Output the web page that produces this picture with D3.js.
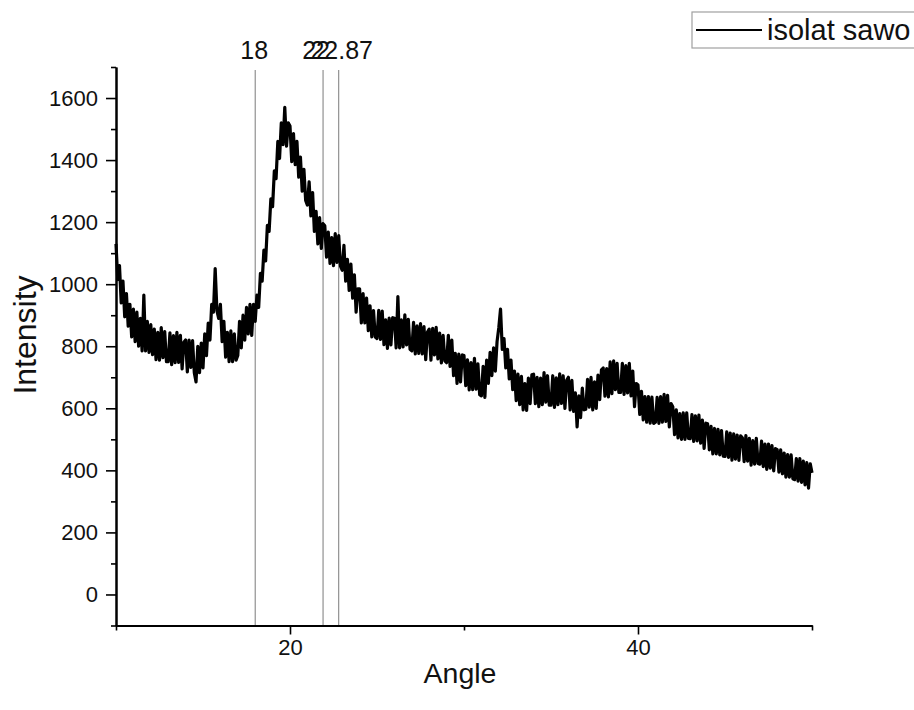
<!DOCTYPE html>
<html>
<head>
<meta charset="utf-8">
<script src="https://cdn.jsdelivr.net/npm/d3@7"></script>
<style>
  html, body { margin: 0; padding: 0; background: #fff; }
  svg { display: block; }
  text { font-family: "Liberation Sans", Arial, sans-serif; fill: #111; }
</style>
</head>
<body>
<svg id="chart" width="914" height="710"></svg>
<script>
// ---- Data ----
const angleStart = 10.0;
const angleStep = 0.1;
const intensity = [
  1130,1015,1060,940,1010,895,970,865,935,830,
  920,815,910,800,890,785,965,785,880,780,
  870,773,855,757,845,755,860,763,847,750,
  750,843,741,834,747,845,748,835,727,813,
  820,717,820,732,818,715,685,800,715,810,
  730,840,770,875,820,935,910,1050,915,890,
  935,815,880,765,845,750,850,750,840,755,
  770,880,795,900,820,925,840,935,835,935,
  880,965,925,1035,1010,1110,1075,1190,1170,1275,
  1250,1365,1340,1460,1405,1520,1450,1570,1445,1520,
  1510,1395,1485,1385,1460,1345,1410,1300,1370,1270,
  1255,1330,1220,1295,1170,1235,1130,1215,1115,1195,
  1188,1087,1168,1067,1150,1060,1163,1070,1157,1058,
  1045,1125,1010,1080,980,1065,955,1030,910,985,
  985,875,970,875,955,850,930,830,915,830,
  825,916,822,913,805,885,793,891,804,892,
  890,795,960,795,885,798,901,804,887,790,
  785,877,775,866,777,873,775,863,757,846,
  855,755,858,772,861,759,842,746,835,753,
  747,835,735,820,705,777,680,775,685,772,
  770,673,756,659,747,660,761,662,743,644,
  640,735,635,755,680,780,705,795,720,815,
  860,920,790,825,730,790,695,755,660,720,
  625,710,612,703,595,680,593,697,615,708,
  710,615,700,605,697,612,715,620,705,610,
  610,705,603,698,612,711,616,705,600,690,
  700,595,690,590,650,540,640,570,665,595,
  597,693,604,700,595,685,600,707,628,724,
  730,639,728,637,750,647,753,660,745,651,
  651,745,645,738,650,745,640,720,605,680,
  675,580,655,563,638,555,638,552,636,551,
  555,635,551,638,555,645,558,642,540,615,
  605,515,595,505,583,500,585,500,585,503,
  502,580,493,576,495,578,488,562,471,552,
  550,466,542,453,535,453,532,450,528,446,
  445,524,442,520,433,518,436,514,432,511,
  505,428,512,430,503,417,496,420,503,422,
  420,494,412,485,403,485,407,480,398,470,
  467,394,466,389,456,378,451,378,450,373,
  370,438,365,438,361,430,353,425,343,421,
  392
];
const seriesName = "isolat sawo";
const refLines = [18, 21.9, 22.8];
const refLabels = ["18", "22", "22.87"];
const refLabelShift = [-1, -7, 3];
const xDomain = [10, 50];
const yDomain = [-100, 1700];
const xMajorTicks = [20, 40];
const xMinorTicks = [10, 30, 50];
const yMajorTicks = [0, 200, 400, 600, 800, 1000, 1200, 1400, 1600];
const yMinorTicks = [-100, 100, 300, 500, 700, 900, 1100, 1300, 1500, 1700];
const xTitle = "Angle";
const yTitle = "Intensity";

// ---- Layout ----
const mLeft = 116, mRight = 812, mTop = 67, mBottom = 625.5;
const svg = d3.select("#chart");

const x = d3.scaleLinear().domain(xDomain).range([mLeft, mRight]);
const y = d3.scaleLinear().domain(yDomain).range([mBottom, mTop]);

const data = intensity.map((v, i) => ({ a: angleStart + i * angleStep, v }));

// Reference lines
svg.append("g").selectAll("line").data(refLines).join("line")
  .attr("x1", d => x(d)).attr("x2", d => x(d))
  .attr("y1", mTop + 3).attr("y2", mBottom)
  .attr("stroke", "#7a7a7a").attr("stroke-width", 1);

svg.append("g").selectAll("text").data(refLines).join("text")
  .attr("x", (d, i) => x(d) + refLabelShift[i])
  .attr("y", 59)
  .attr("text-anchor", "middle")
  .style("font-size", "25px")
  .text((d, i) => refLabels[i]);

// Curve
const line = d3.line().x(d => x(d.a)).y(d => y(d.v));
svg.append("path").datum(data)
  .attr("d", line)
  .attr("fill", "none")
  .attr("stroke", "#000")
  .attr("stroke-width", 3.2)
  .attr("stroke-linejoin", "round");

// Axes
function styleAxis(g, fs) {
  g.selectAll("path.domain").attr("stroke", "#000").attr("stroke-width", 2);
  g.selectAll(".tick line").attr("stroke", "#000").attr("stroke-width", 1.6);
  g.selectAll(".tick text").style("font-size", fs).attr("fill", "#111")
    .style("font-family", "'Liberation Sans', Arial, sans-serif");
}

const gyMinor = svg.append("g").attr("transform", `translate(${mLeft},0)`)
  .call(d3.axisLeft(y).tickValues(yMinorTicks).tickSize(5).tickSizeOuter(0).tickFormat(""));
styleAxis(gyMinor, "22px");
const gy = svg.append("g").attr("transform", `translate(${mLeft},0)`)
  .call(d3.axisLeft(y).tickValues(yMajorTicks).tickSize(10).tickSizeOuter(0).tickPadding(8).tickFormat(d3.format("d")));
styleAxis(gy, "22px");

const gxMinor = svg.append("g").attr("transform", `translate(0,${mBottom})`)
  .call(d3.axisBottom(x).tickValues(xMinorTicks).tickSize(5).tickSizeOuter(0).tickFormat(""));
styleAxis(gxMinor, "22px");
const gx = svg.append("g").attr("transform", `translate(0,${mBottom})`)
  .call(d3.axisBottom(x).tickValues(xMajorTicks).tickSize(9).tickSizeOuter(0).tickPadding(5).tickFormat(d3.format("d")));
styleAxis(gx, "22px");

// Axis titles
svg.append("text")
  .attr("x", 460).attr("y", 683)
  .attr("text-anchor", "middle")
  .style("font-size", "28.5px")
  .text(xTitle);
svg.append("text")
  .attr("transform", `translate(36,335) rotate(-90)`)
  .attr("text-anchor", "middle")
  .style("font-size", "32px")
  .text(yTitle);

// Legend
const lg = svg.append("g");
lg.append("rect").attr("x", 692).attr("y", 12).attr("width", 230).attr("height", 36)
  .attr("fill", "#fff").attr("stroke", "#a0a0a0").attr("stroke-width", 1.2);
lg.append("line").attr("x1", 696).attr("x2", 762).attr("y1", 30).attr("y2", 30)
  .attr("stroke", "#000").attr("stroke-width", 2);
lg.append("text").attr("x", 767).attr("y", 40)
  .style("font-size", "29px").text(seriesName);
</script>
</body>
</html>
